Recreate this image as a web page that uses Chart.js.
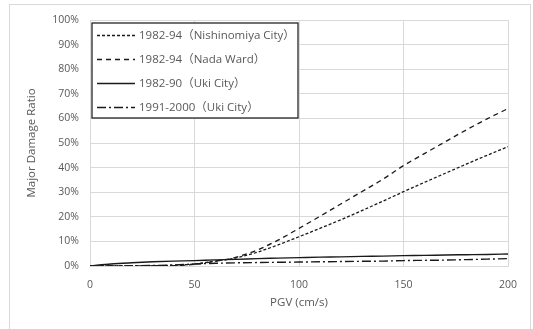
<!DOCTYPE html>
<html>
<head>
<meta charset="utf-8">
<script src="https://cdn.jsdelivr.net/npm/chart.js@4"></script>
<style>
  html, body { margin: 0; padding: 0; background: #fff; }
  #wrap { position: relative; width: 533px; height: 329px; }
</style>
</head>
<body>
<div id="wrap"><canvas id="chart" width="533" height="329"></canvas></div>
<script>
// PGV (cm/s) sample points
const pgv = [0, 10, 20, 30, 40, 50, 60, 70, 80, 90, 100, 110, 120, 130, 140, 150, 160, 170, 180, 190, 200];

// major damage ratio (%)
const nishinomiya = [0, 0, 0, 0.1, 0.3, 0.8, 2, 3.3, 5.6, 8.6, 11.9, 15.3, 18.8, 22.5, 26.3, 30.2, 34, 37.7, 41.4, 45, 48.5];
const nadaWard = [0, 0, 0, 0, 0.1, 0.7, 1.9, 3.6, 6.5, 10.5, 15.3, 20.2, 25.2, 30.2, 35.2, 40.8, 45.7, 50.5, 55.3, 59.8, 64];
const uki8290 = [0, 0.8, 1.3, 1.7, 2, 2.2, 2.5, 2.7, 3, 3.2, 3.4, 3.6, 3.7, 3.9, 4, 4.2, 4.3, 4.5, 4.6, 4.7, 4.9];
const uki9100 = [0, 0, 0.1, 0.2, 0.4, 0.8, 1.1, 1.3, 1.4, 1.5, 1.6, 1.7, 1.8, 1.9, 2, 2.2, 2.3, 2.4, 2.6, 2.8, 3];

const seriesLabels = [
  "1982-94（Nishinomiya City）",
  "1982-94（Nada Ward）",
  "1982-90（Uki City）",
  "1991-2000（Uki City）"
];
const yTicks = [0, 10, 20, 30, 40, 50, 60, 70, 80, 90, 100];
const xTicks = [0, 50, 100, 150, 200];

const FONT = "'Open Sans', 'Noto Sans CJK JP', sans-serif";
const GREY = "#595959";

function pts(vals) {
  return pgv.map((x, i) => ({ x: x, y: vals[i] }));
}

function line(label, vals, dash, width) {
  return {
    label: label,
    data: pts(vals),
    borderColor: "#1a1a1a",
    borderWidth: width,
    borderDash: dash,
    pointRadius: 0,
    cubicInterpolationMode: "monotone",
    fill: false
  };
}

// outer chart border, like the spreadsheet chart area
const frame = {
  id: "frame",
  beforeDraw(chart) {
    const ctx = chart.ctx;
    ctx.save();
    ctx.fillStyle = "#fff";
    ctx.fillRect(0, 0, chart.width, chart.height);
    ctx.strokeStyle = "#d9d9d9";
    ctx.lineWidth = 1;
    ctx.strokeRect(9.5, 4.5, 521, 340);
    ctx.restore();
  }
};

// boxed legend in the top-left of the plot
const boxLegend = {
  id: "boxLegend",
  afterDatasetsDraw(chart) {
    const ctx = chart.ctx;
    const a = chart.chartArea;
    const x0 = a.left + 2, y0 = a.top + 3, w = 206, h = 95;
    ctx.save();
    ctx.fillStyle = "#fff";
    ctx.fillRect(x0, y0, w, h);
    ctx.strokeStyle = "#262626";
    ctx.lineWidth = 1.3;
    ctx.strokeRect(x0, y0, w, h);
    ctx.font = "11.5px " + FONT;
    ctx.textBaseline = "middle";
    chart.data.datasets.forEach((ds, i) => {
      const y = y0 + 12.5 + i * 24;
      ctx.strokeStyle = ds.borderColor;
      ctx.lineWidth = ds.borderWidth;
      ctx.setLineDash(ds.borderDash || []);
      ctx.beginPath();
      ctx.moveTo(x0 + 5, y);
      ctx.lineTo(x0 + 43, y);
      ctx.stroke();
      ctx.setLineDash([]);
      ctx.fillStyle = GREY;
      ctx.fillText(ds.label, x0 + 47, y);
    });
    ctx.restore();
  }
};

const chart = new Chart(document.getElementById("chart"), {
  type: "line",
  data: {
    datasets: [
      line(seriesLabels[0], nishinomiya, [3, 2], 1.3),
      line(seriesLabels[1], nadaWard, [5, 4], 1.3),
      line(seriesLabels[2], uki8290, [], 1.4),
      line(seriesLabels[3], uki9100, [9, 3, 2, 3], 1.4)
    ]
  },
  options: {
    responsive: false,
    animation: false,
    layout: { padding: { left: 9, right: 25, top: 20, bottom: 10 } },
    plugins: {
      legend: { display: false },
      tooltip: { enabled: false }
    },
    scales: {
      x: {
        type: "linear",
        min: 0,
        max: 200,
        afterBuildTicks: (s) => { s.ticks = xTicks.map(v => ({ value: v })); },
        afterFit: (s) => { s.height = 53; },
        grid: { color: "#d9d9d9", drawTicks: false },
        border: { color: "#d9d9d9" },
        ticks: { color: GREY, font: { family: FONT, size: 10.5 }, padding: 13 },
        title: {
          display: true,
          text: "PGV (cm/s)",
          color: GREY,
          font: { family: FONT, size: 11.5 },
          padding: { top: 4, bottom: 9 }
        }
      },
      y: {
        min: 0,
        max: 100,
        afterBuildTicks: (s) => { s.ticks = yTicks.map(v => ({ value: v })); },
        afterFit: (s) => { s.width = 81; },
        grid: { color: "#d9d9d9", drawTicks: false },
        border: { display: false },
        ticks: {
          color: GREY,
          font: { family: FONT, size: 10.5 },
          padding: 11,
          callback: (v) => v + "%"
        },
        title: {
          display: true,
          text: "Major Damage Ratio",
          color: GREY,
          font: { family: FONT, size: 11.5 },
          padding: { top: 16, bottom: 0 }
        }
      }
    }
  },
  plugins: [frame, boxLegend]
});
</script>
</body>
</html>
